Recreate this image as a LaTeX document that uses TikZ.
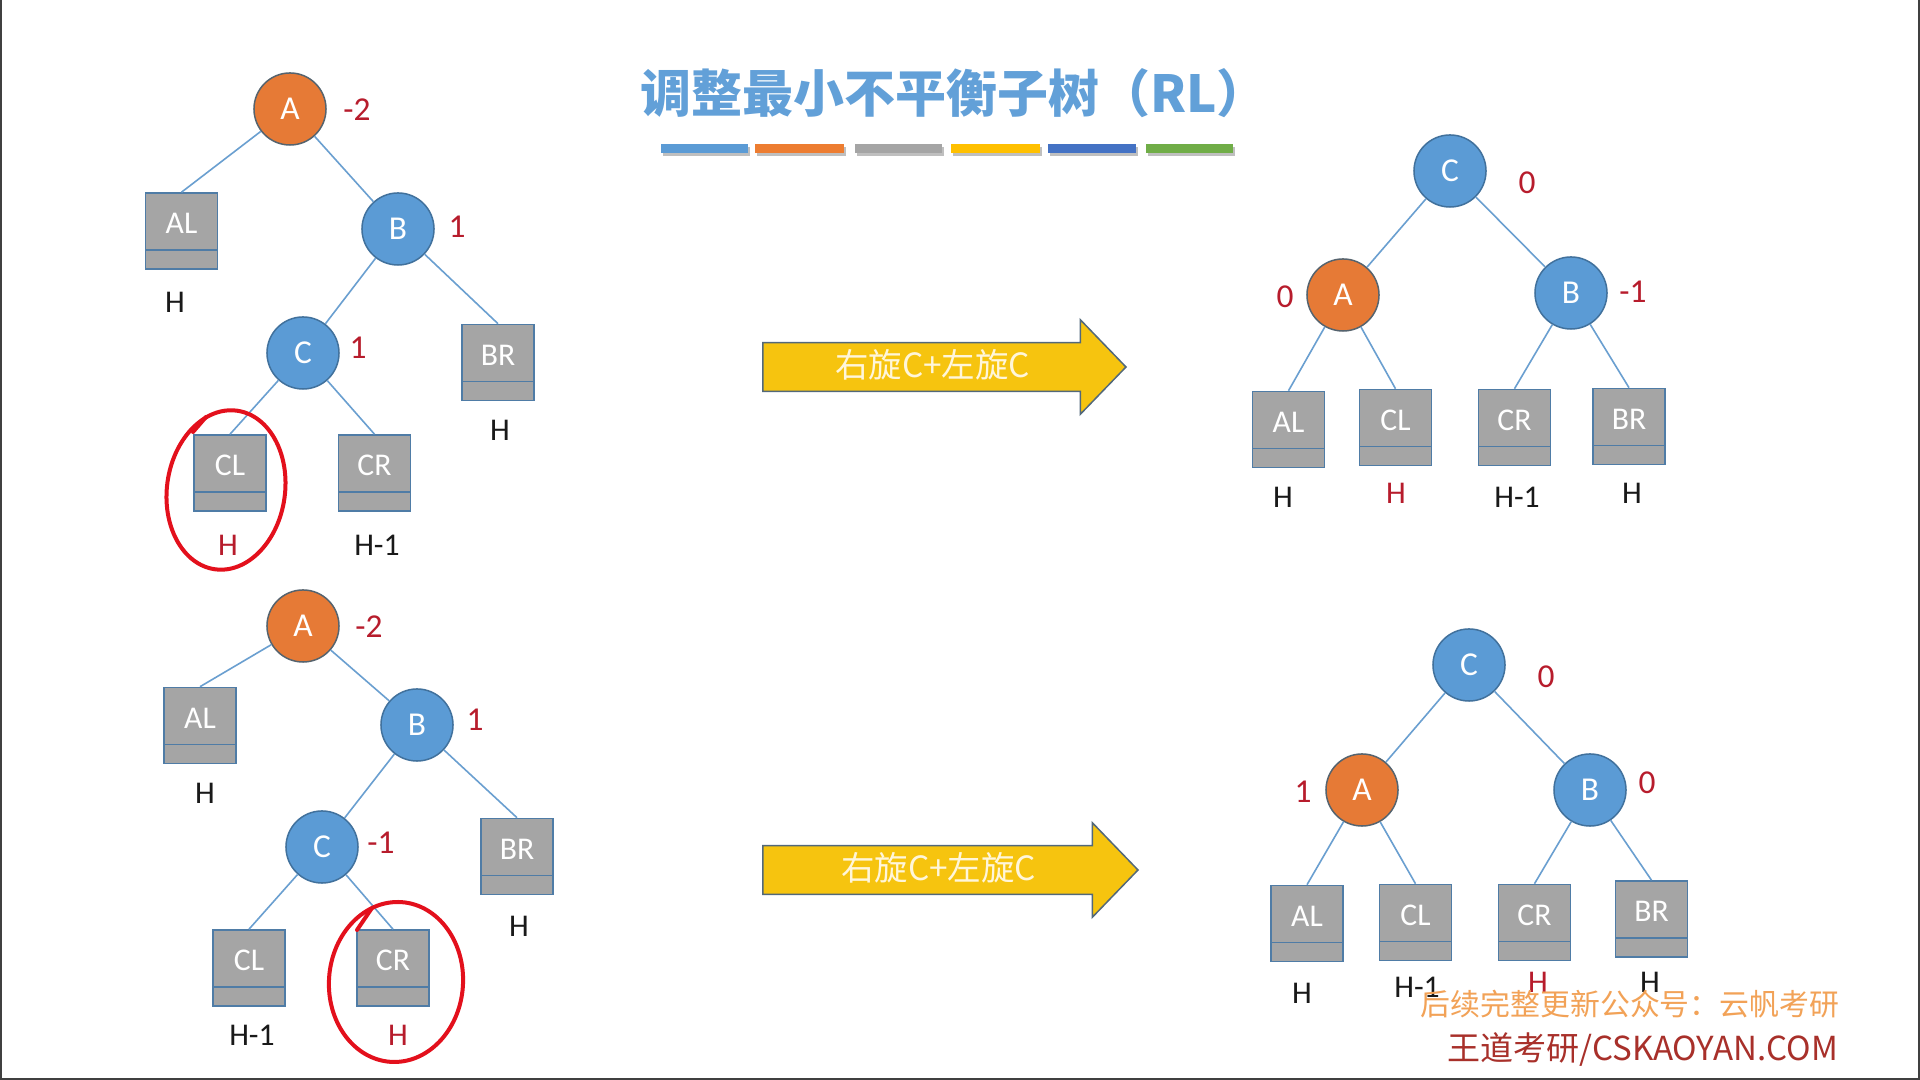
\documentclass[tikz,border=0pt]{standalone}
\usepackage{fontspec}
\setmainfont{Carlito}
\newfontfamily\cjk{Noto Sans CJK SC}
\usetikzlibrary{shapes.arrows}

\definecolor{nodeorange}{HTML}{E67A36}
\definecolor{orangeline}{HTML}{55636E}
\definecolor{nodeblue}{HTML}{5B9BD5}
\definecolor{blueline}{HTML}{41719C}
\definecolor{boxgray}{HTML}{A5A5A5}
\definecolor{boxline}{HTML}{4F7CA6}
\definecolor{linkblue}{HTML}{6A9FD0}
\definecolor{bfred}{HTML}{B71C2C}
\definecolor{ringred}{HTML}{E3101C}
\definecolor{titleblue}{HTML}{62A0D8}
\definecolor{barblue}{HTML}{5B9BD5}
\definecolor{barorange}{HTML}{ED7D31}
\definecolor{bargray}{HTML}{A5A5A5}
\definecolor{bargold}{HTML}{FFC000}
\definecolor{bardark}{HTML}{4472C4}
\definecolor{bargreen}{HTML}{70AD47}
\definecolor{turnfill}{HTML}{F6C40F}
\definecolor{turnline}{HTML}{52687A}
\definecolor{turntext}{HTML}{FFF6DA}
\definecolor{wmorange}{HTML}{F2A257}
\definecolor{wmred}{HTML}{A8302A}
\definecolor{framegray}{HTML}{404040}

\tikzset{
  anode/.style={circle, draw=orangeline, fill=nodeorange, line width=0.015cm,
    minimum size=0.72cm, inner sep=0pt, text=white,
    font=\fontsize{9.5pt}{11pt}\selectfont},
  bnode/.style={anode, draw=blueline, fill=nodeblue},
  subtree/.style={rectangle, draw=boxline, fill=boxgray, line width=0.015cm,
    minimum width=0.72cm, minimum height=0.76cm, inner sep=0.03cm,
    text height=0.38cm, text depth=0.32cm, text=white,
    font=\fontsize{9pt}{11pt}\selectfont,
    path picture={\draw[boxline, line width=0.018cm]
      ([yshift=0.19cm]path picture bounding box.south west) --
      ([yshift=0.19cm]path picture bounding box.south east);}},
  link/.style={draw=linkblue, line width=0.016cm},
  bf/.style={text=bfred, inner sep=0pt, font=\fontsize{9.5pt}{11pt}\selectfont},
  ht/.style={text=black!90, inner sep=0pt, font=\fontsize{9pt}{11pt}\selectfont},
  htred/.style={ht, text=bfred},
  ring/.style={draw=ringred, line width=0.04cm, line cap=round},
  turn/.style={single arrow, draw=turnline, fill=turnfill, line width=0.015cm,
    single arrow head extend=0.23cm, single arrow tip angle=92,
    inner xsep=0.05cm, inner ysep=0.04cm, text height=0.3cm, text depth=0.09cm,
    text=turntext, font=\cjk\fontsize{9.5pt}{11pt}\selectfont},
  frame/.style={draw=framegray, line width=0.02cm}
}

\begin{document}
\begin{tikzpicture}[x=0.01cm, y=-0.01cm]
        \useasboundingbox (0,0) rectangle (1920,1080);
        \fill[white] (0,0) rectangle (1920,1080);
        \draw[frame] (1,0) -- (1,1079) -- (1919,1079) -- (1919,0);

        \node[text=titleblue, font=\cjk\bfseries\fontsize{14.5pt}{16pt}\selectfont] (title) at (954,93) {调整最小不平衡子树（RL）};
        \fill[black!25] (663,147) rectangle (750,156);
        \fill[black!25] (757,147) rectangle (846,156);
        \fill[black!25] (857,147) rectangle (944,156);
        \fill[black!25] (953,147) rectangle (1042,156);
        \fill[black!25] (1050,147) rectangle (1138,156);
        \fill[black!25] (1148,147) rectangle (1235,156);
        \fill[barblue] (661,144) rectangle (748,153);
        \fill[barorange] (755,144) rectangle (844,153);
        \fill[bargray] (855,144) rectangle (942,153);
        \fill[bargold] (951,144) rectangle (1040,153);
        \fill[bardark] (1048,144) rectangle (1136,153);
        \fill[bargreen] (1146,144) rectangle (1233,153);

        \node[anode] (A1) at (290,109) {A};
        \node[bnode] (B1) at (398,229) {B};
        \node[bnode] (C1) at (303,353) {C};
        \node[subtree] (AL1) at (181.5,231) {AL};
        \node[subtree] (BR1) at (498,362.5) {BR};
        \node[subtree] (CL1) at (230,473) {CL};
        \node[subtree] (CR1) at (374.5,473) {CR};
        \draw[link] (A1) -- (AL1.north);
        \draw[link] (A1) -- (B1);
        \draw[link] (B1) -- (C1);
        \draw[link] (B1) -- (BR1.north);
        \draw[link] (C1) -- (CL1.north);
        \draw[link] (C1) -- (CR1.north);
        \node[bf] (fA1) at (357,110) {-2};
        \node[bf] (fB1) at (457,227) {1};
        \node[bf] (fC1) at (358,348) {1};
        \node[ht] (hAL1) at (175,302) {H};
        \node[ht] (hBR1) at (500,430) {H};
        \node[htred] (hCL1) at (228,545) {H};
        \node[ht] (hCR1) at (377,545) {H-1};
        \coordinate (ring1) at (226,490);
        \draw[ring, rotate around={-8:(ring1)}] (ring1) ellipse [x radius=0.59cm, y radius=0.8cm];
        \draw[ring] (193,432) -- (206,417);

        \node[anode] (A2) at (303,626) {A};
        \node[bnode] (B2) at (417,725) {B};
        \node[bnode] (C2) at (322,847) {C};
        \node[subtree] (AL2) at (200,725.5) {AL};
        \node[subtree] (BR2) at (517,856.5) {BR};
        \node[subtree] (CL2) at (249,968) {CL};
        \node[subtree] (CR2) at (393,968) {CR};
        \draw[link] (A2) -- (AL2.north);
        \draw[link] (A2) -- (B2);
        \draw[link] (B2) -- (C2);
        \draw[link] (B2) -- (BR2.north);
        \draw[link] (C2) -- (CL2.north);
        \draw[link] (C2) -- (CR2.north);
        \node[bf] (fA2) at (369,627) {-2};
        \node[bf] (fB2) at (475,720) {1};
        \node[bf] (fC2) at (381,843) {-1};
        \node[ht] (hAL2) at (205,793) {H};
        \node[ht] (hBR2) at (519,926) {H};
        \node[ht] (hCL2) at (252,1035) {H-1};
        \node[htred] (hCR2) at (398,1035) {H};
        \coordinate (ring2) at (396,982);
        \draw[ring, rotate around={-4:(ring2)}] (ring2) ellipse [x radius=0.67cm, y radius=0.8cm];
        \draw[ring] (357,930) -- (372,908);

        \node[turn, minimum height=3.63cm, anchor=tail] (turn1) at (762,367) {右旋C+左旋C};
        \node[turn, minimum height=3.75cm, anchor=tail] (turn2) at (762,870) {右旋C+左旋C};

        \node[bnode] (C3) at (1450,171) {C};
        \node[anode] (A3) at (1343,295) {A};
        \node[bnode] (B3) at (1571,293) {B};
        \node[subtree] (AL3) at (1288.5,429.5) {AL};
        \node[subtree] (CL3) at (1395.5,427.5) {CL};
        \node[subtree] (CR3) at (1514.5,427.5) {CR};
        \node[subtree] (BR3) at (1629,426.5) {BR};
        \draw[link] (C3) -- (A3);
        \draw[link] (C3) -- (B3);
        \draw[link] (A3) -- (AL3.north);
        \draw[link] (A3) -- (CL3.north);
        \draw[link] (B3) -- (CR3.north);
        \draw[link] (B3) -- (BR3.north);
        \node[bf] (fC3) at (1527,183) {0};
        \node[bf] (fA3) at (1285,297) {0};
        \node[bf] (fB3) at (1633,292) {-1};
        \node[ht] (hAL3) at (1283,497) {H};
        \node[htred] (hCL3) at (1396,493) {H};
        \node[ht] (hCR3) at (1517,497) {H-1};
        \node[ht] (hBR3) at (1632,493) {H};

        \node[bnode] (C4) at (1469,665) {C};
        \node[anode] (A4) at (1362,790) {A};
        \node[bnode] (B4) at (1590,790) {B};
        \node[subtree] (AL4) at (1307,923.5) {AL};
        \node[subtree] (CL4) at (1415.5,922.5) {CL};
        \node[subtree] (CR4) at (1534.5,922.5) {CR};
        \node[subtree] (BR4) at (1651.5,919) {BR};
        \draw[link] (C4) -- (A4);
        \draw[link] (C4) -- (B4);
        \draw[link] (A4) -- (AL4.north);
        \draw[link] (A4) -- (CL4.north);
        \draw[link] (B4) -- (CR4.north);
        \draw[link] (B4) -- (BR4.north);
        \node[bf] (fC4) at (1546,677) {0};
        \node[bf] (fA4) at (1303,792) {1};
        \node[bf] (fB4) at (1647,783) {0};
        \node[ht] (hAL4) at (1302,993) {H};
        \node[ht] (hCL4) at (1417,987) {H-1};
        \node[htred] (hCR4) at (1538,982) {H};
        \node[ht] (hBR4) at (1650,982) {H};

        \node[anchor=east, text=wmorange, inner sep=0pt, font=\cjk\fontsize{8.5pt}{10pt}\selectfont] (wm1) at (1840,1004) {后续完整更新公众号：云帆考研};
        \node[anchor=east, text=wmred, inner sep=0pt, font=\cjk\fontsize{9.4pt}{11pt}\selectfont] (wm2) at (1839,1050) {王道考研/CSKAOYAN.COM};
\end{tikzpicture}
\end{document}
